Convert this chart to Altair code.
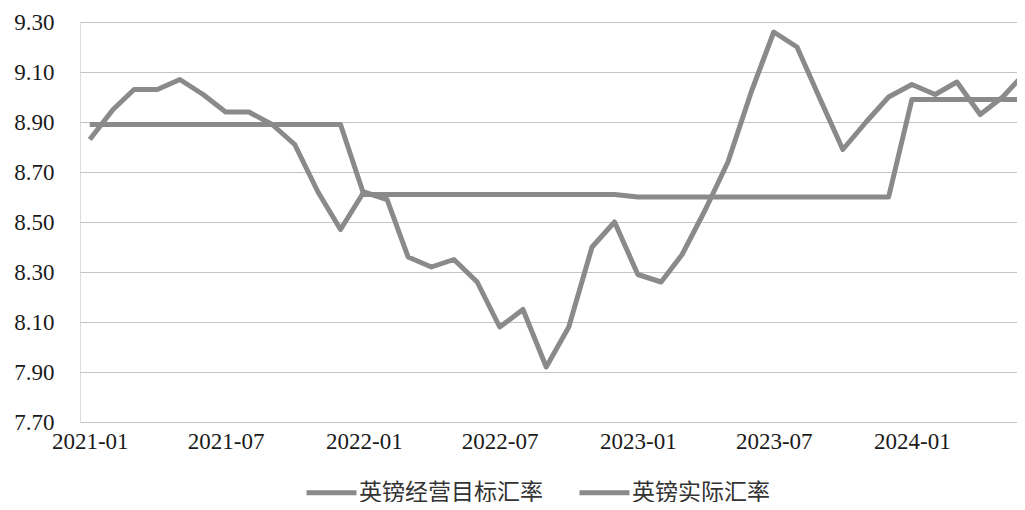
import altair as alt
import pandas as pd

months = [
    "2021-01", "2021-02", "2021-03", "2021-04", "2021-05", "2021-06",
    "2021-07", "2021-08", "2021-09", "2021-10", "2021-11", "2021-12",
    "2022-01", "2022-02", "2022-03", "2022-04", "2022-05", "2022-06",
    "2022-07", "2022-08", "2022-09", "2022-10", "2022-11", "2022-12",
    "2023-01", "2023-02", "2023-03", "2023-04", "2023-05", "2023-06",
    "2023-07", "2023-08", "2023-09", "2023-10", "2023-11", "2023-12",
    "2024-01", "2024-02", "2024-03", "2024-04", "2024-05", "2024-06",
]

target_rate = [
    8.89, 8.89, 8.89, 8.89, 8.89, 8.89, 8.89, 8.89, 8.89, 8.89, 8.89, 8.89,
    8.61, 8.61, 8.61, 8.61, 8.61, 8.61, 8.61, 8.61, 8.61, 8.61, 8.61, 8.61,
    8.60, 8.60, 8.60, 8.60, 8.60, 8.60, 8.60, 8.60, 8.60, 8.60, 8.60, 8.60,
    8.99, 8.99, 8.99, 8.99, 8.99, 8.99,
]

actual_rate = [
    8.83, 8.95, 9.03, 9.03, 9.07, 9.01, 8.94, 8.94, 8.89, 8.81, 8.62, 8.47,
    8.62, 8.59, 8.36, 8.32, 8.35, 8.26, 8.08, 8.15, 7.92, 8.08, 8.40, 8.50,
    8.29, 8.26, 8.37, 8.55, 8.74, 9.02, 9.26, 9.20, 8.99, 8.79, 8.90, 9.00,
    9.05, 9.01, 9.06, 8.93, 9.00, 9.10,
]

series_names = ["英镑经营目标汇率", "英镑实际汇率"]
y_ticks = [7.70, 7.90, 8.10, 8.30, 8.50, 8.70, 8.90, 9.10, 9.30]
x_label_months = ["2021-01", "2021-07", "2022-01", "2022-07", "2023-01", "2023-07", "2024-01"]

rows = []
for m, t, a in zip(months, target_rate, actual_rate):
    rows.append({"date": m + "-01", "series": series_names[0], "value": t})
    rows.append({"date": m + "-01", "series": series_names[1], "value": a})
df = pd.DataFrame(rows)

x_values = [
    alt.DateTime(year=int(s[:4]), month=int(s[5:]), date=1, utc=True) for s in x_label_months
]

chart = (
    alt.Chart(df)
    .mark_line(strokeWidth=5, strokeJoin="round", clip=True)
    .encode(
        x=alt.X(
            "date:T",
            scale=alt.Scale(
                type="utc",
                domain=[
                    alt.DateTime(year=2020, month=12, date=19, utc=True),
                    alt.DateTime(year=2024, month=5, date=20, utc=True),
                ],
            ),
            axis=alt.Axis(
                values=x_values,
                labelExpr="utcFormat(datum.value, '%Y-%m')",
                title=None,
                grid=False,
                domain=False,
                ticks=False,
                labelPadding=8,
                labelFont="Liberation Serif",
                labelFontSize=23,
                labelColor="#1a1a1a",
            ),
        ),
        y=alt.Y(
            "value:Q",
            scale=alt.Scale(domain=[7.70, 9.30], nice=False, zero=False),
            axis=alt.Axis(
                values=y_ticks,
                format=".2f",
                title=None,
                domain=False,
                ticks=False,
                grid=True,
                gridColor="#c4c4c4",
                gridWidth=1,
                labelPadding=26,
                labelFont="Liberation Serif",
                labelFontSize=23,
                labelColor="#1a1a1a",
            ),
        ),
        color=alt.Color(
            "series:N",
            sort=series_names,
            scale=alt.Scale(domain=series_names, range=["#8a8a8a", "#8a8a8a"]),
            legend=alt.Legend(
                title=None,
                orient="none",
                legendX=224,
                legendY=443,
                direction="horizontal",
                symbolType="stroke",
                symbolSize=2500,
                symbolStrokeWidth=5,
                labelFont="Noto Sans CJK SC",
                labelFontSize=23,
                labelColor="#333333",
                labelLimit=400,
                labelOffset=0,
                columnPadding=26,
            ),
        ),
    )
    .properties(
        width=937,
        height=400,
        autosize=alt.AutoSizeParams(type="none"),
        padding={"left": 72, "top": 14, "right": 0, "bottom": 80},
    )
    .configure_view(stroke=None)
    .configure_legend(symbolStrokeWidth=5)
    .configure(background="white")
)

chart.save("out.html", embed_options={"renderer": "svg", "actions": False})
